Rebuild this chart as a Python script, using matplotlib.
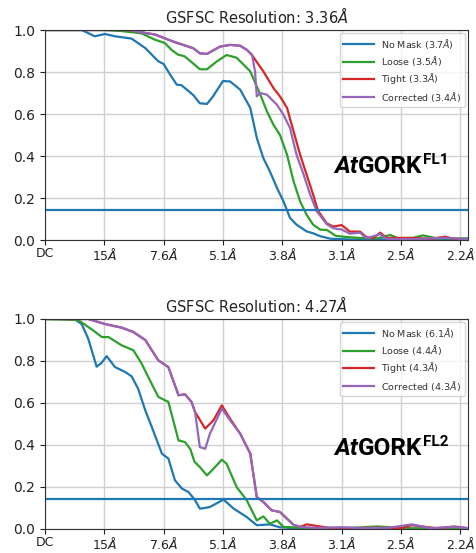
import numpy as np
import matplotlib.pyplot as plt

# x positions are in tick units (0 = DC, 1 = 15A, 2 = 7.6A, ...)
tick_labels = ['DC', '15$Å$', '7.6$Å$', '5.1$Å$', '3.8$Å$', '3.1$Å$', '2.5$Å$', '2.2$Å$']
fsc_cut = 0.143

# ---- FL1 ----
fl1_title = 'GSFSC Resolution: 3.36$Å$'
fl1_legend = ['No Mask (3.7$Å$)', 'Loose (3.5$Å$)', 'Tight (3.3$Å$)', 'Corrected (3.4$Å$)']

fl1_nomask_x = [0, 0.62, 0.84, 1.01, 1.18, 1.46, 1.69, 1.91, 2.00, 2.11, 2.22, 2.30, 2.50, 2.61, 2.73,
                2.83, 3.00, 3.12, 3.29, 3.46, 3.57, 3.68, 3.79, 3.91, 4.02, 4.13, 4.24, 4.41, 4.52, 4.64,
                4.81, 5.2, 5.6, 6.0, 6.5, 7.13]
fl1_nomask_y = [1, 1, 0.970, 0.981, 0.970, 0.959, 0.914, 0.851, 0.838, 0.787, 0.740, 0.737, 0.690, 0.651, 0.648,
                0.683, 0.757, 0.755, 0.716, 0.629, 0.486, 0.390, 0.327, 0.248, 0.184, 0.105, 0.073, 0.041, 0.032, 0.018,
                0.006, 0.002, 0.004, 0.0, 0.003, 0.002]

fl1_loose_x = [0, 1.0, 1.29, 1.63, 1.85, 2.02, 2.13, 2.24, 2.35, 2.50, 2.61, 2.73, 2.89, 3.06, 3.23,
               3.46, 3.63, 3.74, 3.85, 3.96, 4.08, 4.19, 4.30, 4.41, 4.52, 4.64, 4.75, 4.90, 5.05, 5.30,
               5.60, 5.82, 5.95, 6.20, 6.37, 6.60, 7.13]
fl1_loose_y = [1, 1, 0.995, 0.984, 0.954, 0.938, 0.906, 0.883, 0.875, 0.840, 0.813, 0.813, 0.849, 0.881, 0.868,
               0.803, 0.692, 0.613, 0.549, 0.501, 0.406, 0.279, 0.184, 0.120, 0.073, 0.049, 0.048, 0.020, 0.015, 0.010,
               0.008, 0.024, 0.008, 0.010, 0.022, 0.008, 0.008]

fl1_tight_x = [0, 1.4, 1.86, 2.15, 2.32, 2.50, 2.61, 2.73, 2.95, 3.12, 3.29, 3.40, 3.49, 3.68, 3.85,
               3.96, 4.08, 4.19, 4.30, 4.41, 4.52, 4.60, 4.75, 4.86, 5.00, 5.14, 5.31, 5.42, 5.54, 5.65,
               5.76, 6.16, 6.50, 6.75, 6.90, 7.13]
fl1_tight_y = [1, 1, 0.978, 0.946, 0.930, 0.913, 0.889, 0.886, 0.921, 0.929, 0.925, 0.906, 0.880, 0.803, 0.724,
               0.684, 0.629, 0.517, 0.406, 0.311, 0.216, 0.140, 0.079, 0.064, 0.071, 0.040, 0.040, 0.013, 0.010, 0.035,
               0.010, 0.010, 0.006, 0.016, 0.004, 0.004]

fl1_corr_x = [0, 1.4, 1.86, 2.15, 2.32, 2.50, 2.61, 2.73, 2.95, 3.12, 3.29, 3.40, 3.49, 3.54, 3.57,
              3.63, 3.74, 3.91, 4.02, 4.13, 4.24, 4.36, 4.47, 4.58, 4.75, 4.86, 5.00, 5.14, 5.31, 5.42,
              5.65, 5.76, 6.20, 6.75, 7.13]
fl1_corr_y = [1, 1, 0.978, 0.946, 0.930, 0.913, 0.889, 0.886, 0.921, 0.929, 0.925, 0.906, 0.883, 0.803, 0.684,
              0.700, 0.692, 0.644, 0.596, 0.533, 0.406, 0.311, 0.216, 0.137, 0.075, 0.056, 0.050, 0.030, 0.035, 0.008,
              0.028, 0.005, 0.004, 0.010, 0.004]

# ---- FL2 ----
fl2_title = 'GSFSC Resolution: 4.27$Å$'
fl2_legend = ['No Mask (6.1$Å$)', 'Loose (4.4$Å$)', 'Tight (4.3$Å$)', 'Corrected (4.3$Å$)']

fl2_nomask_x = [0, 0.50, 0.62, 0.73, 0.87, 0.95, 1.04, 1.18, 1.35, 1.46, 1.57, 1.69, 1.80, 1.97, 2.08,
                2.19, 2.31, 2.42, 2.53, 2.61, 2.69, 2.78, 3.01, 3.18, 3.40, 3.57, 3.79, 3.96, 4.3, 5.0,
                6.0, 7.13]
fl2_nomask_y = [1, 1, 0.975, 0.905, 0.773, 0.790, 0.823, 0.771, 0.748, 0.727, 0.668, 0.565, 0.486, 0.359, 0.335,
                0.232, 0.192, 0.176, 0.137, 0.097, 0.100, 0.105, 0.140, 0.097, 0.057, 0.018, 0.022, 0.008, 0.003, 0.003,
                0.002, 0.002]

fl2_loose_x = [0, 0.56, 0.81, 0.96, 1.07, 1.29, 1.49, 1.63, 1.74, 1.91, 2.08, 2.25, 2.36, 2.45, 2.52,
               2.61, 2.73, 2.84, 2.98, 3.06, 3.23, 3.40, 3.57, 3.68, 3.79, 3.91, 4.02, 4.5, 5.2, 5.6,
               6.2, 7.13]
fl2_loose_y = [1, 0.995, 0.946, 0.914, 0.914, 0.875, 0.851, 0.787, 0.724, 0.629, 0.605, 0.422, 0.414, 0.380, 0.320,
               0.295, 0.255, 0.287, 0.330, 0.311, 0.200, 0.137, 0.041, 0.060, 0.025, 0.041, 0.010, 0.004, 0.006, 0.012,
               0.003, 0.003]

fl2_tight_x = [0, 0.73, 1.01, 1.29, 1.49, 1.69, 1.91, 2.08, 2.25, 2.36, 2.47, 2.53, 2.70, 2.84, 2.98,
               3.12, 3.29, 3.46, 3.57, 3.68, 3.82, 3.96, 4.08, 4.19, 4.30, 4.41, 4.8, 5.2, 5.6, 6.0,
               6.18, 6.6, 6.9, 7.13]
fl2_tight_y = [1, 1, 0.976, 0.959, 0.938, 0.900, 0.803, 0.771, 0.637, 0.641, 0.605, 0.557, 0.478, 0.518, 0.589,
               0.525, 0.454, 0.359, 0.152, 0.129, 0.089, 0.081, 0.049, 0.020, 0.010, 0.022, 0.005, 0.004, 0.006, 0.004,
               0.018, 0.004, 0.012, 0.004]

fl2_corr_x = [0, 0.73, 1.01, 1.29, 1.49, 1.69, 1.91, 2.08, 2.25, 2.36, 2.47, 2.53, 2.61, 2.70, 2.78,
              2.98, 3.12, 3.29, 3.46, 3.57, 3.68, 3.82, 3.96, 4.08, 4.19, 4.30, 4.6, 5.0, 5.4, 5.8,
              6.18, 6.5, 6.9, 7.13]
fl2_corr_y = [1, 1, 0.976, 0.959, 0.938, 0.900, 0.803, 0.771, 0.637, 0.641, 0.605, 0.557, 0.390, 0.382, 0.454,
              0.573, 0.518, 0.454, 0.359, 0.152, 0.129, 0.089, 0.081, 0.049, 0.020, 0.010, 0.005, 0.008, 0.004, 0.006,
              0.022, 0.004, 0.010, 0.004]


def fsc_panel(ax, title, legend, curves, sup):
    colors = ['#1f77b4', '#2ca02c', '#d62728', '#9467bd']
    for (x, y), c in zip(curves, colors):
        ax.plot(x, y, color=c, lw=1.6)
    ax.axhline(fsc_cut, color='#1f77b4', lw=1.6)
    ax.set_xlim(0, 7.13)
    ax.set_ylim(0, 1)
    ax.set_xticks(range(len(tick_labels)))
    ax.set_xticklabels(tick_labels, fontsize=9)
    ax.set_yticks(np.arange(0, 1.01, 0.2))
    ax.set_yticklabels(['%.1f' % v for v in np.arange(0, 1.01, 0.2)], fontsize=10)
    ax.tick_params(colors='#222222', length=3.5)
    ax.tick_params(axis='x', pad=1.5)
    for s in ax.spines.values():
        s.set_color('#333333')
    ax.grid(color='#d0d0d0', lw=1.0)
    ax.set_axisbelow(True)
    ax.set_title(title, fontsize=10.5, color='#222222', pad=5)
    leg = ax.legend(legend, loc='upper right', fontsize=6.8, handlelength=3.2,
                    borderaxespad=0.3, labelspacing=0.35)
    for t in leg.get_texts():
        t.set_color('#333333')
    # protein label: italic "At", bold "GORK", superscript
    t1 = ax.text(0.683, sup[1], 'At', transform=ax.transAxes, fontsize=17.5,
                 family='Roboto', fontweight='bold', fontstyle='italic', va='baseline')
    t2 = ax.annotate('GORK', xy=(1, 0), xycoords=t1, va='bottom', ha='left',
                     fontsize=17.5, family='Roboto', fontweight='bold')
    ax.annotate(sup[0], xy=(1, 1), xycoords=t2, va='top', ha='left',
                xytext=(0.5, 1.5), textcoords='offset points',
                fontsize=11, family='Roboto', fontweight='bold')


fig = plt.figure(figsize=(4.77, 5.53), dpi=100)
ax1 = fig.add_axes([45 / 477, (553 - 240) / 553, 423 / 477, 210 / 553])
ax2 = fig.add_axes([45 / 477, (553 - 529) / 553, 423 / 477, 210 / 553])

fsc_panel(ax1, fl1_title, fl1_legend,
          [(fl1_nomask_x, fl1_nomask_y), (fl1_loose_x, fl1_loose_y),
           (fl1_tight_x, fl1_tight_y), (fl1_corr_x, fl1_corr_y)], ('FL1', 0.318))
fsc_panel(ax2, fl2_title, fl2_legend,
          [(fl2_nomask_x, fl2_nomask_y), (fl2_loose_x, fl2_loose_y),
           (fl2_tight_x, fl2_tight_y), (fl2_corr_x, fl2_corr_y)], ('FL2', 0.352))

fig.savefig('out.png', dpi=100)
